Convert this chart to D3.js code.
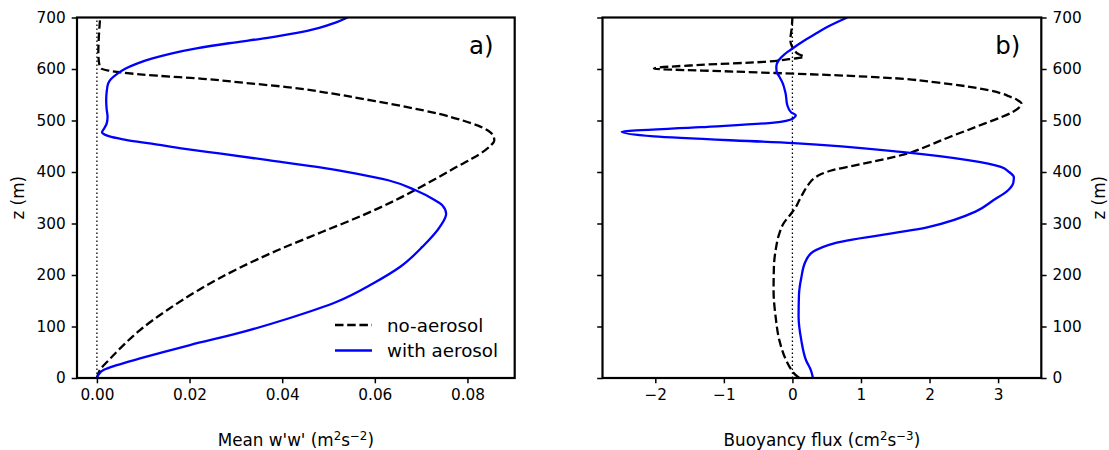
<!DOCTYPE html>
<html>
<head>
<meta charset="utf-8">
<script src="https://cdn.jsdelivr.net/npm/d3@7"></script>
<style>
  body { margin: 0; background: #fff; }
  svg { font-family: "DejaVu Sans", sans-serif; }
</style>
</head>
<body>
<svg id="chart" width="1109" height="450"></svg>
<script>
// profiles as [z (m), value]

// panel a) mean w'w' (m2 s-2)
const wwNoAerosol = [
  [0, 0], [15, 0.0006], [35, 0.0026], [61, 0.0054], [93, 0.0093], [132, 0.0152],
  [171, 0.022], [213, 0.0306], [248, 0.039], [284, 0.0487], [316, 0.0574],
  [345, 0.0644], [371, 0.0699], [390, 0.0738], [410, 0.0777], [426, 0.081],
  [442, 0.0838], [452, 0.0851], [461, 0.0858], [470, 0.0856], [480, 0.0845],
  [490, 0.0823], [500, 0.079], [513, 0.0738], [526, 0.067], [539, 0.0592],
  [552, 0.051], [565, 0.041], [573, 0.032], [581, 0.0228], [587, 0.013],
  [593, 0.0055], [597, 0.0025], [601, 0.0009], [610, 0.0005], [630, 0.0003],
  [660, 0.0004], [700, 0.0007]
];
const wwAerosol = [
  [0, 0], [6, 0.0003], [15.5, 0.0014], [25, 0.0043], [38, 0.0093], [64, 0.0201],
  [87, 0.0305], [116, 0.0415], [148, 0.0518], [184, 0.0597], [216, 0.0655],
  [255, 0.0703], [293, 0.074], [319, 0.0754], [335, 0.0746], [345, 0.073],
  [365, 0.0687], [384, 0.0629], [397, 0.056], [410, 0.0475], [423, 0.037],
  [436, 0.0264], [445, 0.019], [455, 0.0118], [462, 0.0065], [468, 0.0031],
  [472, 0.0018], [477, 0.0011], [485, 0.0016], [494, 0.0021], [507, 0.0023],
  [522, 0.0021], [539, 0.002], [555, 0.0021], [571, 0.0024], [580, 0.003],
  [590, 0.0043], [600, 0.006], [610, 0.0085], [620, 0.0118], [630, 0.016],
  [640, 0.0215], [650, 0.0285], [660, 0.0365], [670, 0.0432], [680, 0.048],
  [690, 0.0515], [700, 0.0541]
];

// panel b) buoyancy flux (cm2 s-3)
const bfNoAerosol = [
  [0, 0.1], [8, 0.03], [17, -0.02], [34, -0.09], [73, -0.19], [119, -0.245],
  [170, -0.275], [216, -0.27], [248, -0.245], [281, -0.19], [300, -0.13],
  [319, -0.02], [330, 0.04], [345, 0.1], [360, 0.16], [375, 0.23], [387, 0.31],
  [396, 0.42], [404, 0.6], [412, 0.88], [422, 1.24], [436, 1.68], [452, 2.0],
  [469, 2.31], [481, 2.55], [494, 2.8], [505, 3.02], [517, 3.22], [527, 3.32],
  [533, 3.34], [540, 3.28], [547, 3.16], [553, 3.04], [566, 2.56], [574, 2.1],
  [582, 1.5], [588, 0.61], [595, -0.85], [601, -2.02], [608, -1.34],
  [614, -0.4], [619, -0.05], [624, 0.17], [628, 0.1], [642, 0], [656, -0.03],
  [680, -0.01], [700, 0]
];
const bfAerosol = [
  [0, 0.3], [15, 0.27], [34, 0.2], [73, 0.13], [119, 0.09], [160, 0.095],
  [195, 0.13], [226, 0.19], [245, 0.3], [262, 0.62], [293, 1.98], [323, 2.67],
  [345, 2.93], [365, 3.15], [378, 3.22], [390, 3.23], [400, 3.16], [410, 3.04],
  [423, 2.56], [439, 1.58], [456, 0.02], [469, -2.02], [478, -2.49],
  [487, -1.34], [496, -0.27], [504, 0.01], [510, 0.05], [516, -0.02],
  [530, -0.075], [553, -0.1], [575, -0.15], [585, -0.19], [595, -0.23],
  [605, -0.235], [617, -0.2], [628, -0.12], [637, -0.03], [656, 0.18],
  [667, 0.32], [681, 0.5], [700, 0.8]
];

const zTicks = [0, 100, 200, 300, 400, 500, 600, 700];
const wwTicks = [0, 0.02, 0.04, 0.06, 0.08];
const bfTicks = [-2, -1, 0, 1, 2, 3];
const seriesNames = ["no-aerosol", "with aerosol"];

const svg = d3.select("#chart");
svg.append("rect").attr("width", 1109).attr("height", 450).attr("fill", "#fff");

const plotTop = 17.5, plotBottom = 378;
const tickFont = 15.3;
const labelFont = 16.8;

const y = d3.scaleLinear().domain([0, 700]).range([plotBottom, plotTop]);

function styleAxis(g) {
  g.attr("font-size", null).attr("font-family", null);
  g.select(".domain").remove();
  g.selectAll(".tick line").attr("stroke", "#000").attr("stroke-width", 1.5);
  g.selectAll(".tick text").attr("fill", "#000").style("font-size", tickFont + "px");
}

function drawPanel(p) {
  const x = d3.scaleLinear().domain(p.domain).range([p.left, p.right]);
  const g = svg.append("g");

  const clipId = "clip-" + p.id;
  svg.append("clipPath").attr("id", clipId)
    .append("rect")
    .attr("x", p.left).attr("y", plotTop)
    .attr("width", p.right - p.left).attr("height", plotBottom - plotTop);

  const plot = g.append("g").attr("clip-path", `url(#${clipId})`);

  // zero line
  plot.append("line")
    .attr("x1", x(0)).attr("x2", x(0))
    .attr("y1", y(0)).attr("y2", y(700))
    .attr("stroke", "#000").attr("stroke-width", 1.3)
    .attr("stroke-dasharray", "1.5,2.5");

  const line = d3.line()
    .x(d => x(d[1]))
    .y(d => y(d[0]))
    .curve(d3.curveMonotoneY);

  plot.append("path").datum(p.noAerosol)
    .attr("d", line).attr("fill", "none")
    .attr("stroke", "#000").attr("stroke-width", 2.3)
    .attr("stroke-dasharray", "8.5,3.7");

  plot.append("path").datum(p.aerosol)
    .attr("d", line).attr("fill", "none")
    .attr("stroke", "#0000ff").attr("stroke-width", 2.3);

  // axes
  g.append("g")
    .attr("transform", `translate(0,${plotBottom})`)
    .call(d3.axisBottom(x).tickValues(p.ticks).tickFormat(p.format)
      .tickSize(5.3).tickPadding(6).tickSizeOuter(0))
    .call(styleAxis);

  g.append("g")
    .attr("transform", `translate(${p.left},0)`)
    .call(d3.axisLeft(y).tickValues(zTicks)
      .tickFormat(p.yRight ? "" : d3.format("d"))
      .tickSize(5.3).tickPadding(6).tickSizeOuter(0))
    .call(styleAxis);

  if (p.yRight) {
    g.append("g")
      .attr("transform", `translate(${p.right},0)`)
      .call(d3.axisRight(y).tickValues(zTicks).tickFormat(d3.format("d"))
        .tickSize(5.3).tickPadding(6).tickSizeOuter(0))
      .call(styleAxis);
  }

  // frame
  g.append("rect")
    .attr("x", p.left).attr("y", plotTop)
    .attr("width", p.right - p.left).attr("height", plotBottom - plotTop)
    .attr("fill", "none").attr("stroke", "#000").attr("stroke-width", 2.2);

  // panel letter
  g.append("text")
    .attr("x", p.right - 21).attr("y", 54)
    .attr("text-anchor", "end")
    .style("font-size", "24.5px")
    .text(p.letter);

  // x label with superscripts
  const xl = g.append("text")
    .attr("x", (p.left + p.right) / 2).attr("y", 446)
    .attr("text-anchor", "middle")
    .style("font-size", labelFont + "px");
  p.xLabel.forEach(part => {
    const t = xl.append("tspan").text(part[0]);
    if (part[1]) t.attr("dy", -6.5).style("font-size", "11.8px");
    else if (part[2]) t.attr("dy", 6.5);
  });

  // y label
  const yx = p.yRight ? 1105 : 24;
  g.append("text")
    .attr("transform", `translate(${yx},${(plotTop + plotBottom) / 2}) rotate(-90)`)
    .attr("text-anchor", "middle")
    .style("font-size", labelFont + "px")
    .text("z (m)");

  return { x, g };
}

// label parts: [text, superscript?, returns from superscript?]
drawPanel({
  id: "a", left: 77, right: 514.7, domain: [-0.0043, 0.0902],
  ticks: wwTicks, format: d3.format(".2f"),
  noAerosol: wwNoAerosol, aerosol: wwAerosol, yRight: false, letter: "a)",
  xLabel: [["Mean w'w' (m"], ["2", true], ["s", false, true], ["\u22122", true], [")", false, true]]
});

drawPanel({
  id: "b", left: 602.5, right: 1041.3, domain: [-2.77, 3.63],
  ticks: bfTicks, format: d3.format("d"),
  noAerosol: bfNoAerosol, aerosol: bfAerosol, yRight: true, letter: "b)",
  xLabel: [["Buoyancy flux (cm"], ["2", true], ["s", false, true], ["\u22123", true], [")", false, true]]
});

// legend in panel a
const legend = svg.append("g");
const legendStyles = [
  { stroke: "#000", dash: "8.5,3.7" },
  { stroke: "#0000ff", dash: null }
];
seriesNames.forEach((name, i) => {
  const ly = 325 + i * 25.5;
  legend.append("line")
    .attr("x1", 335).attr("x2", 372).attr("y1", ly).attr("y2", ly)
    .attr("stroke", legendStyles[i].stroke).attr("stroke-width", 2.3)
    .attr("stroke-dasharray", legendStyles[i].dash);
  legend.append("text")
    .attr("x", 387).attr("y", ly + 6.5)
    .style("font-size", "18.3px")
    .text(name);
});
</script>
</body>
</html>
